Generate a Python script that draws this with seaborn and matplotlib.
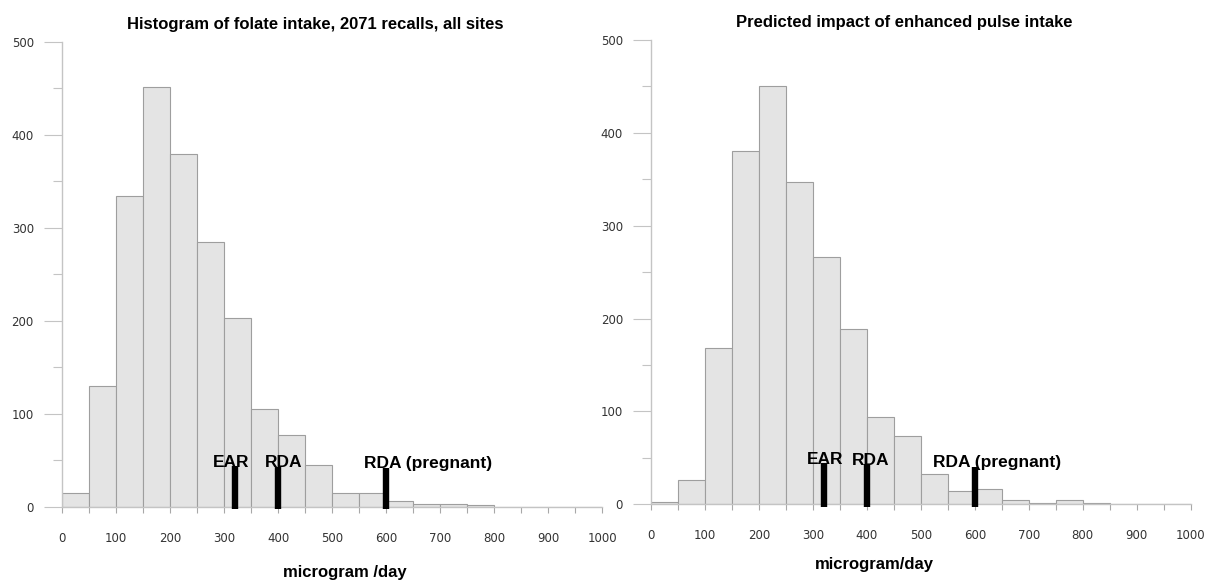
import numpy as np
import pandas as pd
import matplotlib
matplotlib.use("Agg")
import matplotlib.pyplot as plt
import seaborn as sns

# bin edges (microgram/day), 50-wide bins from 0 to 1000
bin_edges = list(range(0, 1001, 50))
bin_left = bin_edges[:-1]

# counts per bin
counts_all = [15, 130, 334, 452, 379, 285, 203, 105, 77, 45,
              15, 15, 6, 3, 3, 2, 0, 0, 0, 0]
counts_pulse = [2, 26, 168, 381, 451, 347, 266, 189, 94, 74,
                33, 14, 17, 5, 1, 5, 1, 0, 0, 0]

# reference intakes
ref_values = [320, 400, 600]
ref_labels = ["EAR", "RDA", "RDA (pregnant)"]

titles = ["Histogram of folate intake, 2071 recalls, all sites",
          "Predicted impact of enhanced pulse intake"]
xlabels = ["microgram /day", "microgram/day"]

sns.set_style("white")
plt.rcParams["font.family"] = ["Liberation Sans", "DejaVu Sans"]

W, H = 1208, 581
fig = plt.figure(figsize=(W / 100, H / 100), dpi=100)

# axes placement in pixels: (x0, x1, y_top, y_bottom)
boxes = [(62, 602, 42, 506.5), (651.3, 1190.5, 40, 504.3)]

# per panel: marker tops, label (x, y) positions, title/xlabel positions
marker_tops = [[43.5, 42, 41], [45, 43.5, 40.6]]
label_pos = [[(313, 42.5), (410, 42), (678, 41)],
             [(322, 43.5), (406, 42), (642, 40.5)]]
title_x = [315, 904]
title_y = [25, 22.7]
xlabel_x = [345, 874]
xlabel_y = [573, 564]

spine_col = "#c4c4c4"

for i, counts in enumerate([counts_all, counts_pulse]):
    x0, x1, yt, yb = boxes[i]
    ax = fig.add_axes([x0 / W, 1 - yb / H, (x1 - x0) / W, (yb - yt) / H])
    df = pd.DataFrame({"intake": np.array(bin_left) + 25, "n": counts})
    sns.histplot(data=df, x="intake", weights="n", bins=bin_edges, ax=ax,
                 color="#e4e4e4", edgecolor="#9e9e9e", linewidth=0.8,
                 alpha=1)
    ax.set_xlim(0, 1000)
    ax.set_ylim(0, 500)
    ax.set_xlabel("")
    ax.set_ylabel("")

    for s in ["top", "right"]:
        ax.spines[s].set_visible(False)
    for s in ["left", "bottom"]:
        ax.spines[s].set_color(spine_col)
        ax.spines[s].set_linewidth(1.0)

    ax.set_xticks(range(0, 1001, 100))
    ax.set_xticks(range(50, 1000, 100), minor=True)
    ax.set_yticks(range(0, 501, 100))
    ax.set_yticks(range(50, 500, 100), minor=True)
    ax.tick_params(axis="x", which="both", direction="out", length=4.5,
                   width=0.8, color="#a8a8a8", pad=13.5, bottom=True)
    ax.tick_params(axis="y", which="major", direction="out", length=13,
                   width=0.8, color=spine_col, pad=7.3, left=True)
    ax.tick_params(axis="y", which="minor", direction="out", length=6.5,
                   width=0.8, color=spine_col, left=True)
    for lab in ax.get_xticklabels() + ax.get_yticklabels():
        lab.set_fontfamily("DejaVu Sans")
        lab.set_fontsize(8.5)
        lab.set_color("#333333")

    for v, top, (lx, ly), txt in zip(ref_values, marker_tops[i],
                                      label_pos[i], ref_labels):
        ax.plot([v, v], [-2.5, top], color="black", linewidth=4.6,
                solid_capstyle="butt", clip_on=False, zorder=5)
        ax.text(lx, ly, txt, ha="center", va="baseline", fontsize=12.5,
                fontweight="bold", color="black", zorder=6)

    fig.text(title_x[i] / W, 1 - title_y[i] / H, titles[i], ha="center",
             va="center", fontsize=12, fontweight="bold", color="black")
    fig.text(xlabel_x[i] / W, 1 - xlabel_y[i] / H, xlabels[i], ha="center",
             va="center", fontsize=12, fontweight="bold", color="black")

fig.savefig("out.png", dpi=100)
plt.close(fig)
